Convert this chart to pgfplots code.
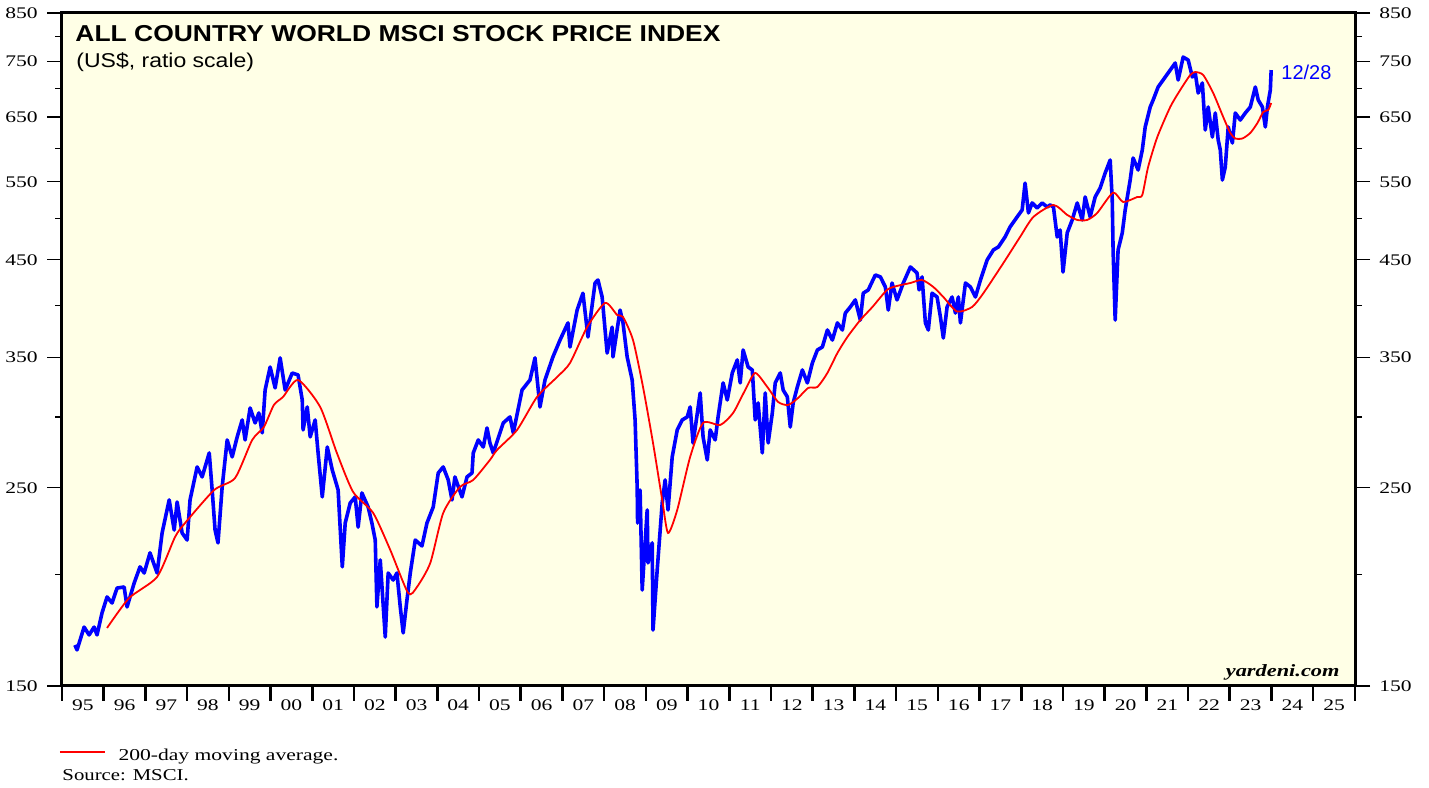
\documentclass[border=0pt]{standalone}
\usepackage{pgfplots}
\pgfplotsset{compat=1.18}
\usepackage{fontspec}
\setmainfont{Liberation Serif}
\newfontfamily\arial{Liberation Sans}
\definecolor{chartbg}{RGB}{255,255,230}
\definecolor{acwi}{RGB}{0,0,255}
\definecolor{ma}{RGB}{255,0,0}

% MSCI ACWI, US$
\pgfplotstableread{
year value
1995.31 166.7
1995.36 164.6
1995.53 174.6
1995.65 171.1
1995.77 174.6
1995.84 171.1
1995.96 181.1
1996.08 188.7
1996.20 185.8
1996.32 193.1
1996.49 193.6
1996.56 183.9
1996.73 195.6
1996.87 203.9
1996.97 200.7
1997.11 211.4
1997.28 200.7
1997.40 222.5
1997.57 242.3
1997.69 224.2
1997.76 241.0
1997.88 222.5
1998.00 218.5
1998.07 242.3
1998.24 263.8
1998.36 257.1
1998.53 273.5
1998.60 248.6
1998.67 224.2
1998.74 216.9
1998.84 250.5
1998.96 282.8
1999.08 270.7
1999.20 285.0
1999.32 297.8
1999.39 282.8
1999.51 307.1
1999.63 295.5
1999.72 303.2
1999.80 288.0
1999.87 321.7
1999.99 341.3
2000.11 323.4
2000.23 349.4
2000.35 321.7
2000.52 336.1
2000.66 334.4
2000.76 313.5
2000.78 290.2
2000.88 307.9
2000.95 285.0
2001.07 297.8
2001.14 273.5
2001.24 244.2
2001.36 277.7
2001.48 261.7
2001.55 255.1
2001.62 248.6
2001.72 203.9
2001.79 228.3
2001.91 240.4
2002.03 244.2
2002.10 225.9
2002.19 246.7
2002.34 237.9
2002.43 228.3
2002.51 218.5
2002.55 183.9
2002.63 207.6
2002.75 170.2
2002.82 200.7
2002.94 197.1
2003.03 200.7
2003.11 183.9
2003.18 172.0
2003.27 187.2
2003.35 200.7
2003.47 218.5
2003.63 215.2
2003.75 228.3
2003.90 237.9
2004.02 259.7
2004.14 263.8
2004.26 255.1
2004.35 242.3
2004.42 257.1
2004.59 244.2
2004.71 257.1
2004.83 259.7
2004.86 273.5
2004.98 282.8
2005.10 277.7
2005.19 291.7
2005.26 280.6
2005.34 273.5
2005.58 295.5
2005.74 300.1
2005.82 288.0
2006.03 321.7
2006.22 330.1
2006.34 349.4
2006.46 307.9
2006.58 330.1
2006.77 350.3
2006.94 365.9
2007.13 382.4
2007.18 359.4
2007.35 395.3
2007.49 412.8
2007.61 368.8
2007.78 423.8
2007.85 427.1
2007.95 408.8
2008.07 353.8
2008.19 378.3
2008.21 350.3
2008.38 395.3
2008.45 382.4
2008.55 350.3
2008.67 330.1
2008.74 297.8
2008.79 250.5
2008.80 228.3
2008.86 248.6
2008.91 192.1
2009.03 236.1
2009.05 206.0
2009.15 216.9
2009.17 173.3
2009.27 202.3
2009.39 240.4
2009.46 255.1
2009.53 236.1
2009.63 270.7
2009.75 290.2
2009.87 297.8
2009.99 300.1
2010.06 307.9
2010.13 280.6
2010.30 319.2
2010.37 285.0
2010.47 268.6
2010.54 290.2
2010.66 282.8
2010.73 300.1
2010.85 327.6
2010.95 313.5
2011.07 336.1
2011.19 347.6
2011.26 327.6
2011.33 356.6
2011.45 341.3
2011.55 338.7
2011.62 297.8
2011.69 311.1
2011.79 273.5
2011.86 319.2
2011.93 280.6
2012.03 303.2
2012.10 327.6
2012.22 336.1
2012.29 321.7
2012.39 316.0
2012.46 292.4
2012.53 311.1
2012.63 324.2
2012.75 338.7
2012.87 327.6
2012.99 344.9
2013.11 356.6
2013.23 359.4
2013.35 375.5
2013.47 365.9
2013.59 382.4
2013.71 375.5
2013.78 392.2
2013.90 398.5
2014.02 405.7
2014.14 385.3
2014.21 412.8
2014.33 416.3
2014.50 432.7
2014.62 430.5
2014.74 419.5
2014.81 395.3
2014.90 423.8
2015.02 405.7
2015.17 423.8
2015.34 441.7
2015.50 434.9
2015.55 416.3
2015.62 430.5
2015.70 382.4
2015.77 375.5
2015.86 412.8
2015.98 408.8
2016.06 388.3
2016.13 367.8
2016.22 398.5
2016.34 408.8
2016.42 392.2
2016.49 408.8
2016.54 382.4
2016.66 423.8
2016.78 419.5
2016.90 408.8
2017.02 427.1
2017.18 449.7
2017.33 461.5
2017.45 465.1
2017.61 477.2
2017.73 489.7
2017.90 502.5
2018.02 511.6
2018.09 548.3
2018.17 507.7
2018.26 520.9
2018.38 514.2
2018.50 520.9
2018.62 515.5
2018.69 518.2
2018.77 515.5
2018.86 477.2
2018.93 485.9
2019.00 436.0
2019.10 482.2
2019.22 498.6
2019.34 520.9
2019.46 498.6
2019.53 529.0
2019.65 502.5
2019.77 529.0
2019.89 541.4
2020.01 562.7
2020.13 581.9
2020.18 524.9
2020.20 461.5
2020.25 385.3
2020.32 461.5
2020.42 482.2
2020.49 511.6
2020.61 552.7
2020.68 584.9
2020.80 567.1
2020.90 597.1
2020.97 633.6
2021.09 667.1
2021.16 679.2
2021.28 702.4
2021.40 715.2
2021.57 733.8
2021.69 747.2
2021.76 715.2
2021.88 758.8
2022.00 753.0
2022.10 720.8
2022.17 728.2
2022.24 691.6
2022.34 709.7
2022.41 628.7
2022.48 667.1
2022.58 617.4
2022.65 656.9
2022.72 612.7
2022.77 597.1
2022.82 552.7
2022.89 571.6
2022.96 633.6
2023.06 608.0
2023.13 656.9
2023.25 645.1
2023.37 656.9
2023.49 667.1
2023.61 702.4
2023.68 679.2
2023.78 667.1
2023.85 633.6
2023.90 667.1
2023.97 697.0
2023.99 733.8
}\acwi

% 200-day moving average
\pgfplotstableread{
year value
1996.08 174.2
1996.61 188.2
1997.28 198.7
1997.71 220.2
1997.95 228.3
1998.65 248.6
1999.15 256.4
1999.56 282.8
1999.84 292.4
2000.08 309.5
2000.30 316.0
2000.66 330.1
2001.19 307.9
2001.59 273.5
2001.98 247.3
2002.46 234.3
2002.87 213.0
2003.30 190.6
2003.51 193.6
2003.83 206.0
2004.14 234.3
2004.54 250.5
2004.86 255.1
2005.26 268.6
2005.43 275.6
2005.91 290.2
2006.39 316.0
2006.87 332.6
2007.18 344.9
2007.59 378.3
2008.02 402.6
2008.31 390.3
2008.45 388.3
2008.69 365.9
2008.93 324.2
2009.17 280.6
2009.39 242.3
2009.53 222.5
2009.75 236.1
2010.06 270.7
2010.37 295.5
2010.78 293.9
2011.09 303.2
2011.38 321.7
2011.62 336.1
2011.91 324.2
2012.17 311.9
2012.41 309.5
2012.65 315.2
2012.89 323.4
2013.11 324.2
2013.35 336.1
2013.59 353.8
2013.83 368.8
2014.14 385.3
2014.43 398.5
2014.78 416.3
2015.02 420.6
2015.34 423.8
2015.62 427.1
2015.89 419.5
2016.13 408.8
2016.46 393.8
2016.82 398.5
2017.09 412.8
2017.57 446.2
2017.97 477.2
2018.29 502.5
2018.77 518.2
2019.10 505.1
2019.34 498.6
2019.58 498.6
2019.82 507.7
2020.20 535.0
2020.44 522.2
2020.78 529.0
2020.90 531.7
2021.04 571.6
2021.26 617.4
2021.57 667.1
2021.81 697.0
2022.05 724.5
2022.17 730.0
2022.36 724.5
2022.60 691.6
2022.84 650.2
2023.01 623.9
2023.13 615.1
2023.30 615.1
2023.49 623.9
2023.66 640.1
2023.80 658.6
2023.92 662.0
2023.99 674.0
}\movavg

\begin{document}
\begin{tikzpicture}
\path[use as bounding box] (-31pt,-50.5pt) rectangle (683.5pt,343pt);
\begin{axis}[
 at={(0,0)}, anchor=south west,
 scale only axis, width=646.5pt, height=336.5pt,
 xmin=1995, xmax=2026, ymode=log, ymin=150, ymax=850,
 axis background/.style={fill=chartbg},
 axis line style={line width=1.5pt},
 tick align=outside,
 major tick length=7.5pt, minor tick length=3.5pt,
 xtick pos=left, ytick pos=left,
 ytick={150,250,350,450,550,650,750,850},
 yticklabels={150,250,350,450,550,650,750,850},
 minor ytick={200,300,400,500,600,700,800},
 ytick style={line width=0.6pt, black},
 yticklabel style={font=\fontsize{8.1}{9}\selectfont, xscale=1.33},
 xtick={1995,...,2026}, xticklabels={},
 xtick style={line width=1.3pt, black},
 extra x ticks={1995.5,1996.5,1997.5,1998.5,1999.5,2000.5,2001.5,2002.5,2003.5,2004.5,2005.5,2006.5,2007.5,2008.5,2009.5,2010.5,2011.5,2012.5,2013.5,2014.5,2015.5,2016.5,2017.5,2018.5,2019.5,2020.5,2021.5,2022.5,2023.5,2024.5,2025.5},
 extra x tick labels={95,96,97,98,99,00,01,02,03,04,05,06,07,08,09,10,11,12,13,14,15,16,17,18,19,20,21,22,23,24,25},
 extra x tick style={major tick length=0pt,
  xticklabel style={font=\fontsize{8.1}{9}\selectfont, xscale=1.33, yshift=-3.3pt}},
]
\addplot[acwi, line width=1.8pt, line join=round] table[x=year, y=value] {\acwi};
\addplot[ma, line width=0.9pt, smooth, tension=0.4] table[x=year, y=value] {\movavg};
\end{axis}
\begin{axis}[
 at={(0,0)}, anchor=south west,
 scale only axis, width=646.5pt, height=336.5pt,
 xmin=1995, xmax=2026, ymode=log, ymin=150, ymax=850,
 hide x axis, axis y line*=right,
 axis line style={line width=1.5pt},
 tick align=outside,
 major tick length=7.5pt, minor tick length=3.5pt,
 ytick={150,250,350,450,550,650,750,850},
 yticklabels={150,250,350,450,550,650,750,850},
 minor ytick={200,300,400,500,600,700,800},
 ytick style={line width=0.6pt, black},
 yticklabel style={font=\fontsize{8.1}{9}\selectfont, xscale=1.33},
]
\addplot[draw=none] coordinates {(2000,300)};
\end{axis}

% titles and notes
\node[anchor=base west, inner sep=0pt, xscale=1.15,
 font=\arial\bfseries\fontsize{11.5}{13}\selectfont] at (6.5pt,322pt)
 {ALL COUNTRY WORLD MSCI STOCK PRICE INDEX};
\node[anchor=base west, inner sep=0pt, xscale=1.15,
 font=\arial\fontsize{10}{12}\selectfont] at (7pt,309pt)
 {(US\$, ratio scale)};
\node[anchor=base west, inner sep=0pt, text=acwi,
 font=\arial\fontsize{10}{11}\selectfont] at (609.5pt,303pt) {12/28};
\node[anchor=base east, inner sep=0pt, xscale=1.3,
 font=\bfseries\itshape\fontsize{8.6}{10}\selectfont] at (639pt,4.6pt) {yardeni.com};
\draw[ma, line width=0.8pt] (-1pt,-33pt) -- (21.5pt,-33pt);
\node[anchor=base west, inner sep=0pt, xscale=1.3,
 font=\fontsize{8.3}{10}\selectfont] at (28pt,-37pt) {200-day moving average.};
\node[anchor=base west, inner sep=0pt, xscale=1.25,
 font=\fontsize{8.3}{10}\selectfont] at (0pt,-47pt) {Source: MSCI.};
\end{tikzpicture}
\end{document}
